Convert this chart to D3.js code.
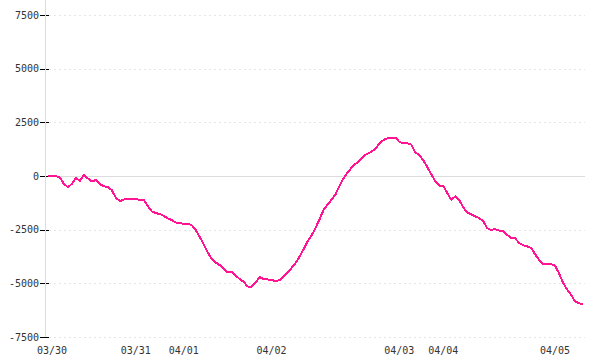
<!DOCTYPE html>
<html>
<head>
<meta charset="utf-8">
<script src="https://cdn.jsdelivr.net/npm/d3@7"></script>
<style>
  body { margin: 0; background: #fff; }
  text { font-family: "DejaVu Sans Mono", "Liberation Mono", monospace; font-size: 10px; fill: #333; }
</style>
</head>
<body>
<main></main>
<script>
// one value every sample
const values = [
  0, 0, 0, -75, -370, -520, -360, -95, -220, 40,
  -120, -255, -190, -380, -485, -505, -665, -1010, -1170, -1095,
  -1075, -1083, -1090, -1100, -1108, -1400, -1650, -1730, -1770, -1860,
  -1970, -2060, -2160, -2206, -2217, -2230, -2290, -2520, -2840, -3180,
  -3560, -3850, -4030, -4150, -4300, -4495, -4450, -4640, -4795, -4930,
  -5145, -5160, -4960, -4710, -4795, -4820, -4840, -4900, -4850, -4670,
  -4475, -4290, -4050, -3760, -3420, -3060, -2780, -2420, -2020, -1590,
  -1340, -1110, -860, -460, -110, 155, 380, 565, 700, 925,
  1035, 1125, 1270, 1520, 1670, 1760, 1790, 1790, 1590, 1520,
  1530, 1460, 1100, 980, 730, 420, 75, -240, -450, -465,
  -790, -1110, -950, -1120, -1450, -1700, -1790, -1875, -1965, -2100,
  -2430, -2510, -2476, -2540, -2575, -2740, -2890, -2900, -3120, -3225,
  -3280, -3345, -3640, -3910, -4117, -4100, -4100, -4180, -4530, -4970,
  -5280, -5530, -5840, -5930, -5980
];

const dayLabels = ["03/30", "03/31", "04/01", "04/02", "04/03", "04/04", "04/05"];
const dayIndex = [1, 22, 34, 56, 88, 99, 127];

const yTicks = [-7500, -5000, -2500, 0, 2500, 5000, 7500];

const w = 600;
const h = 360;

const svg = d3.select("main")
  .append("svg")
  .attr("width", w)
  .attr("height", h);

const x = d3.scaleLinear()
  .domain([0, values.length - 1])
  .range([48, 583]);

const y = d3.scaleLinear()
  .domain([-7500, 7500])
  .range([337, 15]);

// grid
svg.append("g")
  .selectAll("line")
  .data(yTicks)
  .enter()
  .append("line")
  .attr("x1", d => d === 0 ? 45 : 49)
  .attr("x2", 585)
  .attr("y1", d => Math.round(y(d)) + 0.5)
  .attr("y2", d => Math.round(y(d)) + 0.5)
  .style("stroke", d => d === 0 ? "#dcdcdc" : "#e6e6e6")
  .style("stroke-dasharray", d => d === 0 ? null : "2,3");

// y axis ticks + labels
svg.append("g")
  .selectAll("line")
  .data(yTicks)
  .enter()
  .append("line")
  .attr("x1", 40)
  .attr("x2", 49)
  .attr("y1", d => Math.round(y(d)) + 0.5)
  .attr("y2", d => Math.round(y(d)) + 0.5)
  .style("stroke", "#000");

svg.append("line")
  .attr("x1", 45.5)
  .attr("x2", 45.5)
  .attr("y1", 0)
  .attr("y2", 337)
  .style("stroke", "#dcdcdc");

svg.append("g")
  .selectAll("text")
  .data(yTicks)
  .enter()
  .append("text")
  .attr("x", 39)
  .attr("y", d => y(d))
  .attr("dy", "0.35em")
  .style("text-anchor", "end")
  .text(d => d);

// x labels
svg.append("g")
  .selectAll("text")
  .data(dayLabels)
  .enter()
  .append("text")
  .attr("x", (d, i) => x(dayIndex[i]))
  .attr("y", 354)
  .style("text-anchor", "middle")
  .text(d => d);

const line = d3.line()
  .x((d, i) => x(i))
  .y(d => y(d));

svg.append("path")
  .datum(values)
  .attr("d", line)
  .style("fill", "none")
  .style("stroke", "#ff1493")
  .style("stroke-width", 2)
  .style("stroke-linejoin", "round")
  .style("shape-rendering", "crispEdges");
</script>
</body>
</html>
